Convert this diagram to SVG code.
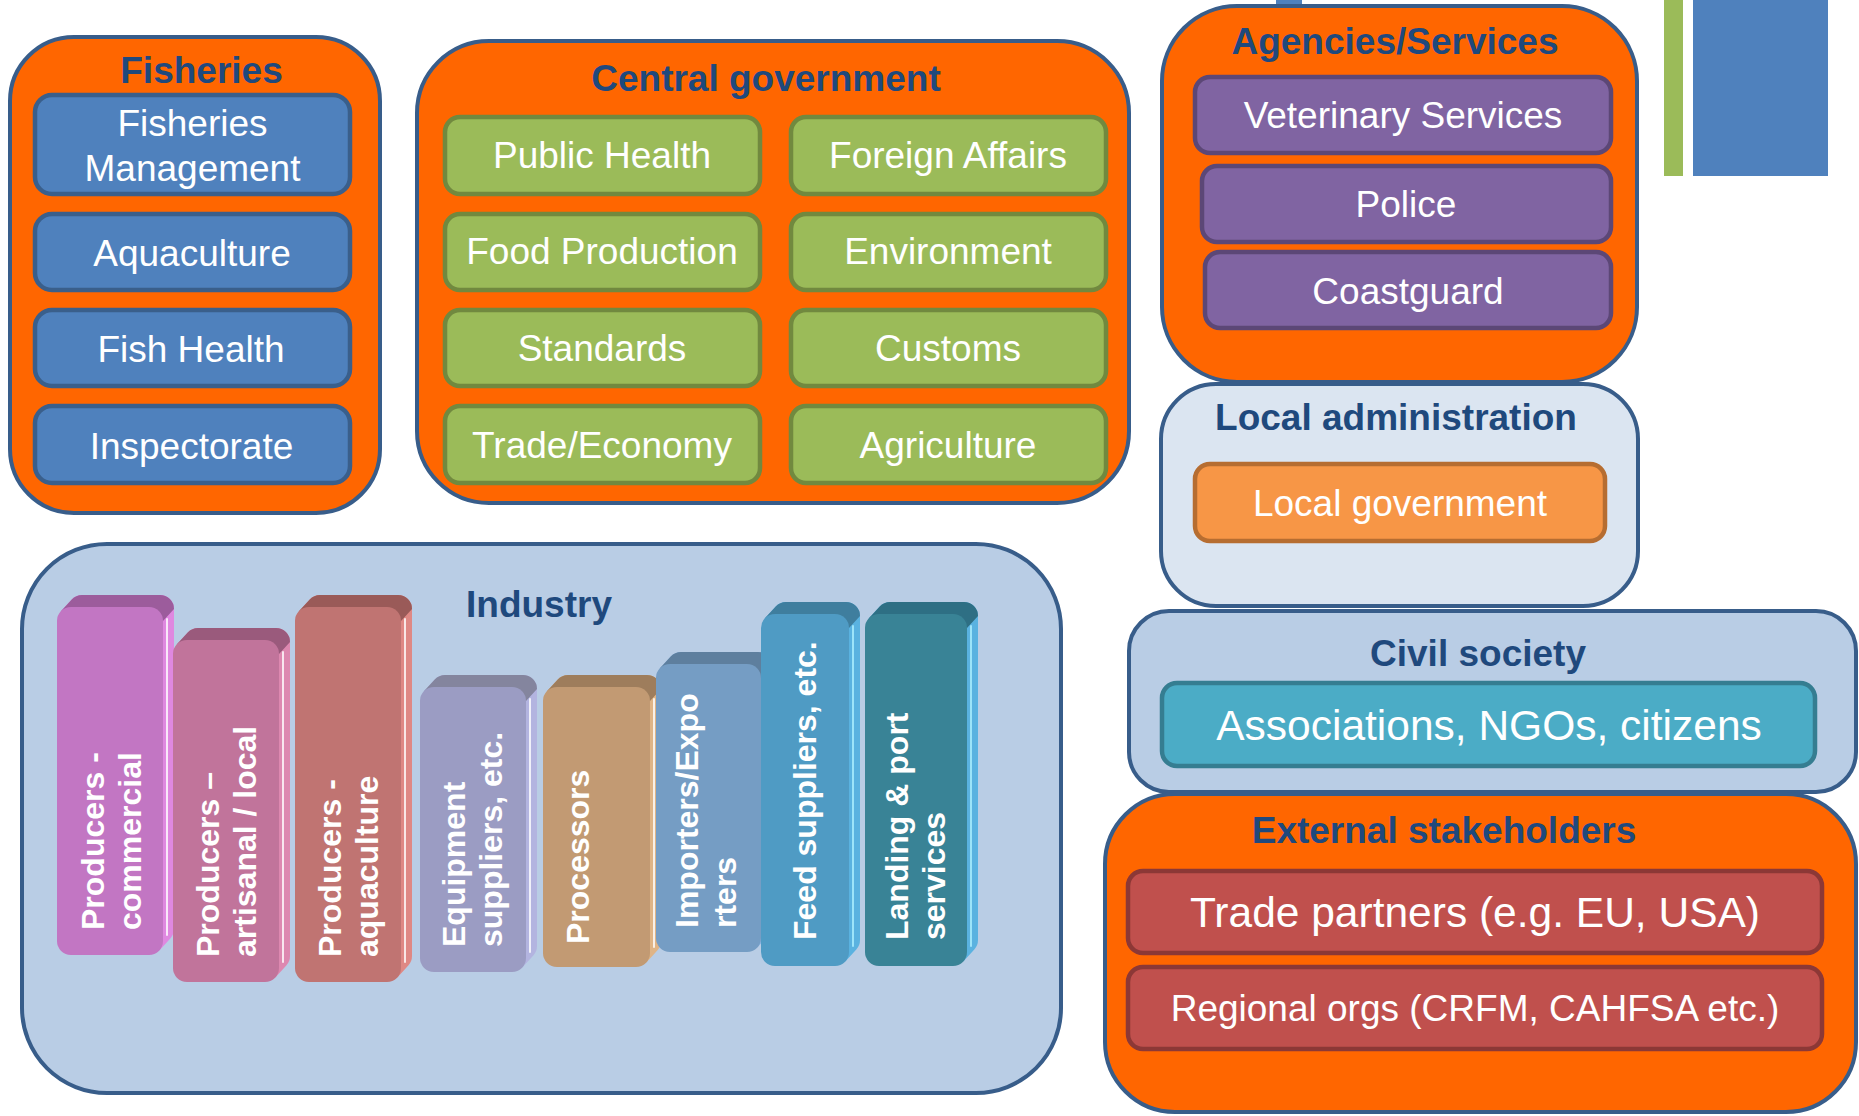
<svg xmlns="http://www.w3.org/2000/svg" width="1859" height="1116" viewBox="0 0 1859 1116">
<style>
text{font-family:"Liberation Sans",Arial,sans-serif}
.outer{stroke:#385d8a;stroke-width:4}
.org{fill:#ff6600}
.lb{fill:#dbe5f1}
.mb{fill:#b9cde5}
.title{font-size:37px;font-weight:bold;fill:#1f497d;text-anchor:middle}
.lbl{font-size:37px;fill:#fff;text-anchor:middle}
.big{font-size:42.5px}
.box{stroke-width:4.5}
.blue{fill:#4f81bd;stroke:#3a5f8b}
.green{fill:#9bbb59;stroke:#71893f}
.purple{fill:#8064a2;stroke:#5c4776}
.lorange{fill:#f79646;stroke:#b66d31}
.teal{fill:#4bacc6;stroke:#357d91}
.red{fill:#c0504d;stroke:#8c3836}
.bt{font-size:32px;font-weight:bold;fill:#fff}
.hl{stroke:#fff;stroke-width:2;stroke-opacity:0.8;stroke-linecap:round}
</style>

<!-- decorative -->
<rect x="1664" y="0" width="19" height="176" fill="#9bbb59"/>
<rect x="1693" y="0" width="135" height="176" fill="#4f81bd"/>
<rect x="1276" y="0" width="26" height="10" fill="#4f81bd"/>

<g id="fisheries">
<rect class="outer org" x="10" y="37" width="370" height="476" rx="64"/>
<text class="title" x="201.5" y="83">Fisheries</text>
<g id="fisheries-management"><rect class="box blue" x="35" y="95" width="315" height="99" rx="17"/>
<text class="lbl" x="192.5" y="136">Fisheries</text><text class="lbl" x="192.5" y="181">Management</text></g>
<g id="aquaculture"><rect class="box blue" x="35" y="214" width="315" height="76" rx="17"/><text class="lbl" x="192" y="266">Aquaculture</text></g>
<g id="fish-health"><rect class="box blue" x="35" y="310" width="315" height="76" rx="17"/><text class="lbl" x="191" y="362">Fish Health</text></g>
<g id="inspectorate"><rect class="box blue" x="35" y="406" width="315" height="77" rx="17"/><text class="lbl" x="191.5" y="459">Inspectorate</text></g>
</g>

<g id="central-government">
<rect class="outer org" x="417" y="41" width="712" height="462" rx="72"/>
<text class="title" x="766" y="91">Central government</text>
<g id="public-health"><rect class="box green" x="445" y="117" width="315" height="77" rx="15"/><text class="lbl" x="602" y="168">Public Health</text></g>
<g id="foreign-affairs"><rect class="box green" x="791" y="117" width="315" height="77" rx="15"/><text class="lbl" x="948" y="168">Foreign Affairs</text></g>
<g id="food-production"><rect class="box green" x="445" y="214" width="315" height="76" rx="15"/><text class="lbl" x="602" y="264">Food Production</text></g>
<g id="environment"><rect class="box green" x="791" y="214" width="315" height="76" rx="15"/><text class="lbl" x="948" y="264">Environment</text></g>
<g id="standards"><rect class="box green" x="445" y="310" width="315" height="76" rx="15"/><text class="lbl" x="602" y="361">Standards</text></g>
<g id="customs"><rect class="box green" x="791" y="310" width="315" height="76" rx="15"/><text class="lbl" x="948" y="361">Customs</text></g>
<g id="trade-economy"><rect class="box green" x="445" y="406" width="315" height="77" rx="15"/><text class="lbl" x="602" y="458">Trade/Economy</text></g>
<g id="agriculture"><rect class="box green" x="791" y="406" width="315" height="77" rx="15"/><text class="lbl" x="948" y="458">Agriculture</text></g>
</g>

<g id="agencies-services">
<rect class="outer org" x="1162" y="6" width="475" height="376" rx="75"/>
<text class="title" x="1395" y="54">Agencies/Services</text>
<g id="veterinary"><rect class="box purple" x="1195" y="77" width="416" height="76" rx="15"/><text class="lbl" x="1403" y="128">Veterinary Services</text></g>
<g id="police"><rect class="box purple" x="1202" y="166" width="409" height="76" rx="15"/><text class="lbl" x="1406" y="217">Police</text></g>
<g id="coastguard"><rect class="box purple" x="1205" y="252" width="406" height="76" rx="15"/><text class="lbl" x="1408" y="304">Coastguard</text></g>
</g>

<g id="local-administration">
<rect class="outer lb" x="1161" y="384" width="477" height="222" rx="55"/>
<text class="title" x="1396" y="430">Local administration</text>
<g id="local-government"><rect class="box lorange" x="1195" y="464" width="410" height="77" rx="15"/><text class="lbl" x="1400" y="516">Local government</text></g>
</g>

<g id="civil-society">
<rect class="outer mb" x="1129" y="611" width="727" height="181" rx="40"/>
<text class="title" x="1478" y="666">Civil society</text>
<g id="associations"><rect class="box teal" x="1162" y="683" width="653" height="83" rx="15"/><text class="lbl big" x="1489" y="740">Associations, NGOs, citizens</text></g>
</g>

<g id="external-stakeholders">
<rect class="outer org" x="1105" y="794" width="751" height="318" rx="70"/>
<text class="title" x="1444" y="843">External stakeholders</text>
<g id="trade-partners"><rect class="box red" x="1128" y="871" width="694" height="82" rx="15"/><text class="lbl big" x="1475" y="927">Trade partners (e.g. EU, USA)</text></g>
<g id="regional-orgs"><rect class="box red" x="1128" y="967" width="694" height="82" rx="15"/><text class="lbl" x="1475" y="1021">Regional orgs (CRFM, CAHFSA etc.)</text></g>
</g>

<g id="industry">
<rect class="outer mb" x="22" y="544" width="1039" height="549" rx="85"/>
<text class="title" x="539" y="617">Industry</text>

<g id="producers-commercial">
<g transform="translate(57,607)">
<path d="M3.7,4.5 L14.7,-7.5 A14,14 0 0 1 25,-12 H103 A14,14 0 0 1 117,2 V322 A14,14 0 0 1 113.3,331.5 L102.3,343.5 L53,174 Z" fill="#df88e0"/>
<path d="M3.7,4.5 L14.7,-7.5 A14,14 0 0 1 25,-12 H103 A14,14 0 0 1 117,2 L106,14 L53,14 Z" fill="#9c5c9c"/>
<rect width="106" height="348" rx="14" fill="#c276c3"/>
<line class="hl" x1="110" y1="12" x2="110" y2="328"/>
</g>
<text class="bt" transform="translate(104,930) rotate(-90)">Producers -</text>
<text class="bt" transform="translate(141,930) rotate(-90)">commercial</text>
</g>

<g id="producers-artisanal">
<g transform="translate(173,640)">
<path d="M3.7,4.5 L14.7,-7.5 A14,14 0 0 1 25,-12 H103 A14,14 0 0 1 117,2 V316 A14,14 0 0 1 113.3,325.5 L102.3,337.5 L53,171 Z" fill="#dd88b0"/>
<path d="M3.7,4.5 L14.7,-7.5 A14,14 0 0 1 25,-12 H103 A14,14 0 0 1 117,2 L106,14 L53,14 Z" fill="#9a5a7c"/>
<rect width="106" height="342" rx="14" fill="#c1749b"/>
<line class="hl" x1="110" y1="12" x2="110" y2="322"/>
</g>
<text class="bt" transform="translate(219,957) rotate(-90)">Producers –</text>
<text class="bt" transform="translate(256,957) rotate(-90)">artisanal / local</text>
</g>

<g id="producers-aquaculture">
<g transform="translate(295,607)">
<path d="M3.7,4.5 L14.7,-7.5 A14,14 0 0 1 25,-12 H103 A14,14 0 0 1 117,2 V349 A14,14 0 0 1 113.3,358.5 L102.3,370.5 L53,187.5 Z" fill="#df8884"/>
<path d="M3.7,4.5 L14.7,-7.5 A14,14 0 0 1 25,-12 H103 A14,14 0 0 1 117,2 L106,14 L53,14 Z" fill="#9a5a58"/>
<rect width="106" height="375" rx="14" fill="#c07472"/>
<line class="hl" x1="110" y1="12" x2="110" y2="355"/>
</g>
<text class="bt" transform="translate(341,957) rotate(-90)">Producers -</text>
<text class="bt" transform="translate(378,957) rotate(-90)">aquaculture</text>
</g>

<g id="equipment-suppliers">
<g transform="translate(420,687)">
<path d="M3.7,4.5 L14.7,-7.5 A14,14 0 0 1 25,-12 H103 A14,14 0 0 1 117,2 V259 A14,14 0 0 1 113.3,268.5 L102.3,280.5 L53,142.5 Z" fill="#b3b4e0"/>
<path d="M3.7,4.5 L14.7,-7.5 A14,14 0 0 1 25,-12 H103 A14,14 0 0 1 117,2 L106,14 L53,14 Z" fill="#84859e"/>
<rect width="106" height="285" rx="14" fill="#9b9cc3"/>
<line class="hl" x1="110" y1="12" x2="110" y2="265"/>
</g>
<text class="bt" transform="translate(465,947) rotate(-90)">Equipment</text>
<text class="bt" transform="translate(502,947) rotate(-90)">suppliers, etc.</text>
</g>

<g id="processors">
<g transform="translate(543,687)">
<path d="M3.7,4.5 L14.7,-7.5 A14,14 0 0 1 25,-12 H104 A14,14 0 0 1 118,2 V254 A14,14 0 0 1 114.3,263.5 L103.3,275.5 L53.5,140 Z" fill="#dfb486"/>
<path d="M3.7,4.5 L14.7,-7.5 A14,14 0 0 1 25,-12 H104 A14,14 0 0 1 118,2 L107,14 L53.5,14 Z" fill="#9e7d5c"/>
<rect width="107" height="280" rx="14" fill="#c29a73"/>
<line class="hl" x1="111" y1="12" x2="111" y2="260"/>
</g>
<text class="bt" transform="translate(589,944) rotate(-90)">Processors</text>
</g>

<g id="importers-exporters">
<g transform="translate(656,664)">
<path d="M3.7,4.5 L14.7,-7.5 A14,14 0 0 1 25,-12 H102 A14,14 0 0 1 116,2 V262 A14,14 0 0 1 112.3,271.5 L101.3,283.5 L52.5,144 Z" fill="#8ab4e0"/>
<path d="M3.7,4.5 L14.7,-7.5 A14,14 0 0 1 25,-12 H102 A14,14 0 0 1 116,2 L105,14 L52.5,14 Z" fill="#5e7f9e"/>
<rect width="105" height="288" rx="14" fill="#759dc4"/>
<line class="hl" x1="109" y1="12" x2="109" y2="268"/>
</g>
<text class="bt" transform="translate(698,928) rotate(-90)">Importers/Expo</text>
<text class="bt" transform="translate(736,928) rotate(-90)">rters</text>
</g>

<g id="feed-suppliers">
<g transform="translate(761,614)">
<path d="M3.7,4.5 L14.7,-7.5 A14,14 0 0 1 25,-12 H85 A14,14 0 0 1 99,2 V326 A14,14 0 0 1 95.3,335.5 L84.3,347.5 L44,176 Z" fill="#5ab2e0"/>
<path d="M3.7,4.5 L14.7,-7.5 A14,14 0 0 1 25,-12 H85 A14,14 0 0 1 99,2 L88,14 L44,14 Z" fill="#3f7e9e"/>
<rect width="88" height="352" rx="14" fill="#4f9bc4"/>
<line class="hl" x1="92" y1="12" x2="92" y2="332" style="stroke:#aef0ff"/>
</g>
<text class="bt" transform="translate(816,940) rotate(-90)">Feed suppliers, etc.</text>
</g>

<g id="landing-port">
<g transform="translate(865,614)">
<path d="M3.7,4.5 L14.7,-7.5 A14,14 0 0 1 25,-12 H99 A14,14 0 0 1 113,2 V326 A14,14 0 0 1 109.3,335.5 L98.3,347.5 L51,176 Z" fill="#5ab2e0"/>
<path d="M3.7,4.5 L14.7,-7.5 A14,14 0 0 1 25,-12 H99 A14,14 0 0 1 113,2 L102,14 L51,14 Z" fill="#2e6f84"/>
<rect width="102" height="352" rx="14" fill="#398396"/>
<line class="hl" x1="106" y1="12" x2="106" y2="332" style="stroke:#aef0ff"/>
</g>
<text class="bt" transform="translate(908,940) rotate(-90)">Landing &amp; port</text>
<text class="bt" transform="translate(945,940) rotate(-90)">services</text>
</g>
</g>

<g id="connectors"></g>
</svg>
